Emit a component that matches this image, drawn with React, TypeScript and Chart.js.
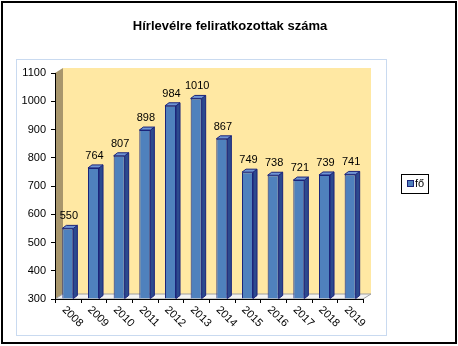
import React, { useEffect, useRef } from "react";
import { Chart, registerables } from "chart.js";

Chart.register(...registerables);

const TITLE = "Hírlevélre feliratkozottak száma";
const YEARS = ["2008", "2009", "2010", "2011", "2012", "2013", "2014", "2015", "2016", "2017", "2018", "2019"];
const SUBSCRIBERS = [550, 764, 807, 898, 984, 1010, 867, 749, 738, 721, 739, 741];
const SERIES_LABEL = "fő";
const Y_MIN = 300;
const Y_MAX = 1100;
const Y_STEP = 100;

const FONT = "Arial, 'Liberation Sans', sans-serif";
const WALL_DX = 8;
const WALL_DY = -5;
const BAR_DX = 4;
const BAR_DY = -3;

const decorPlugin = {
  id: "decor",
  beforeDraw(chart: any) {
    const { ctx, chartArea } = chart;
    const { left, right, top, bottom } = chartArea;
    ctx.save();
    ctx.fillStyle = "#ffffff";
    ctx.fillRect(0, 0, chart.width, chart.height);
    // outer border
    ctx.strokeStyle = "#000";
    ctx.lineWidth = 2;
    ctx.strokeRect(2, 2, 454, 341);
    // inner plot frame
    ctx.strokeStyle = "#c9daf0";
    ctx.lineWidth = 1;
    ctx.strokeRect(16.5, 59.5, 370, 276);
    // title
    ctx.fillStyle = "#000";
    ctx.font = `bold 13px ${FONT}`;
    ctx.textAlign = "center";
    ctx.textBaseline = "middle";
    ctx.fillText(TITLE, 230, 26);
    // back wall
    ctx.fillStyle = "#ffe8a3";
    ctx.fillRect(left + WALL_DX, top + WALL_DY, right - left, bottom - top);
    // side wall
    ctx.fillStyle = "#a8966c";
    ctx.beginPath();
    ctx.moveTo(left, top);
    ctx.lineTo(left + WALL_DX, top + WALL_DY);
    ctx.lineTo(left + WALL_DX, bottom + WALL_DY);
    ctx.lineTo(left, bottom);
    ctx.closePath();
    ctx.fill();
    // floor
    ctx.fillStyle = "#f3f3f3";
    ctx.strokeStyle = "#a0a0a0";
    ctx.beginPath();
    ctx.moveTo(left, bottom);
    ctx.lineTo(left + WALL_DX, bottom + WALL_DY);
    ctx.lineTo(right + WALL_DX, bottom + WALL_DY);
    ctx.lineTo(right, bottom);
    ctx.closePath();
    ctx.fill();
    ctx.stroke();
    // front floor edge
    ctx.strokeStyle = "#000";
    ctx.beginPath();
    ctx.moveTo(left, bottom + 0.5);
    ctx.lineTo(right, bottom + 0.5);
    ctx.stroke();
    // category boundary ticks
    const xs = chart.scales.x;
    const n = YEARS.length;
    ctx.beginPath();
    for (let i = 0; i <= n; i++) {
      let px: number;
      if (i === 0) px = left;
      else if (i === n) px = right;
      else px = (xs.getPixelForValue(i - 1) + xs.getPixelForValue(i)) / 2;
      px = Math.round(px) + 0.5;
      ctx.moveTo(px, bottom);
      ctx.lineTo(px, bottom + 4);
    }
    ctx.stroke();
    ctx.restore();
  },
  afterDatasetsDraw(chart: any) {
    const { ctx, chartArea } = chart;
    const meta = chart.getDatasetMeta(0);
    ctx.save();
    ctx.lineWidth = 1;
    meta.data.forEach((bar: any, i: number) => {
      const x0 = bar.x - bar.width / 2;
      const x1 = bar.x + bar.width / 2;
      const y = bar.y;
      const base = Math.min(bar.base, chartArea.bottom);
      // side face
      ctx.fillStyle = "#2c4a8e";
      ctx.strokeStyle = "#1b247a";
      ctx.beginPath();
      ctx.moveTo(x1, y);
      ctx.lineTo(x1 + BAR_DX, y + BAR_DY);
      ctx.lineTo(x1 + BAR_DX, base + BAR_DY);
      ctx.lineTo(x1, base);
      ctx.closePath();
      ctx.fill();
      ctx.stroke();
      // top face
      ctx.fillStyle = "#6f95d4";
      ctx.beginPath();
      ctx.moveTo(x0, y);
      ctx.lineTo(x0 + BAR_DX, y + BAR_DY);
      ctx.lineTo(x1 + BAR_DX, y + BAR_DY);
      ctx.lineTo(x1, y);
      ctx.closePath();
      ctx.fill();
      ctx.stroke();
      // value label
      ctx.fillStyle = "#000";
      ctx.font = `11px ${FONT}`;
      ctx.textAlign = "center";
      ctx.textBaseline = "alphabetic";
      ctx.fillText(String(SUBSCRIBERS[i]), bar.x + 1, y - 9);
    });
    ctx.restore();
  },
  afterDraw(chart: any) {
    const { ctx, chartArea } = chart;
    const xs = chart.scales.x;
    ctx.save();
    // rotated category labels
    ctx.fillStyle = "#000";
    ctx.font = `11px ${FONT}`;
    ctx.textAlign = "left";
    ctx.textBaseline = "middle";
    YEARS.forEach((label, i) => {
      const px = xs.getPixelForValue(i);
      ctx.save();
      ctx.translate(px - 4, chartArea.bottom + 9);
      ctx.rotate(Math.PI / 4);
      ctx.fillText(label, 0, 0);
      ctx.restore();
    });
    // legend
    ctx.strokeStyle = "#000";
    ctx.lineWidth = 1;
    ctx.strokeRect(401.5, 174.5, 27, 19);
    ctx.fillStyle = "#4f81bd";
    ctx.fillRect(407.5, 180.5, 6, 6);
    ctx.strokeStyle = "#1b247a";
    ctx.strokeRect(407.5, 180.5, 6, 6);
    ctx.fillStyle = "#000";
    ctx.font = `11px ${FONT}`;
    ctx.textAlign = "left";
    ctx.textBaseline = "middle";
    ctx.fillText(SERIES_LABEL, 415, 184);
    ctx.restore();
  },
};

export default function App() {
  const ref = useRef<HTMLCanvasElement>(null);
  useEffect(() => {
    document.body.style.margin = "0";
    const canvas = ref.current;
    if (!canvas) return;
    const chart = new Chart(canvas, {
      type: "bar",
      data: {
        labels: YEARS,
        datasets: [
          {
            label: SERIES_LABEL,
            data: SUBSCRIBERS,
            base: Y_MIN,
            backgroundColor: "#4f81bd",
            borderColor: "#1b247a",
            borderWidth: 1,
            barPercentage: 0.43,
            categoryPercentage: 1,
          },
        ],
      },
      options: {
        responsive: false,
        animation: false,
        devicePixelRatio: 1,
        layout: { padding: { left: 0, right: 95, top: 73, bottom: 47 } },
        plugins: {
          legend: { display: false },
          title: { display: false },
          tooltip: { enabled: false },
        },
        scales: {
          x: { display: false, offset: true },
          y: {
            min: Y_MIN,
            max: Y_MAX,
            ticks: {
              stepSize: Y_STEP,
              color: "#000",
              padding: 5,
              font: { family: FONT, size: 11 },
              callback: (v: any) => String(v),
            },
            grid: { drawOnChartArea: false, tickLength: 4, color: "#000" },
            border: { color: "#000" },
            afterFit: (scale: any) => {
              scale.width = 55;
            },
          },
        },
      },
      plugins: [decorPlugin],
    });
    return () => chart.destroy();
  }, []);
  return <canvas ref={ref} width={458} height={346} style={{ display: "block" }} />;
}
